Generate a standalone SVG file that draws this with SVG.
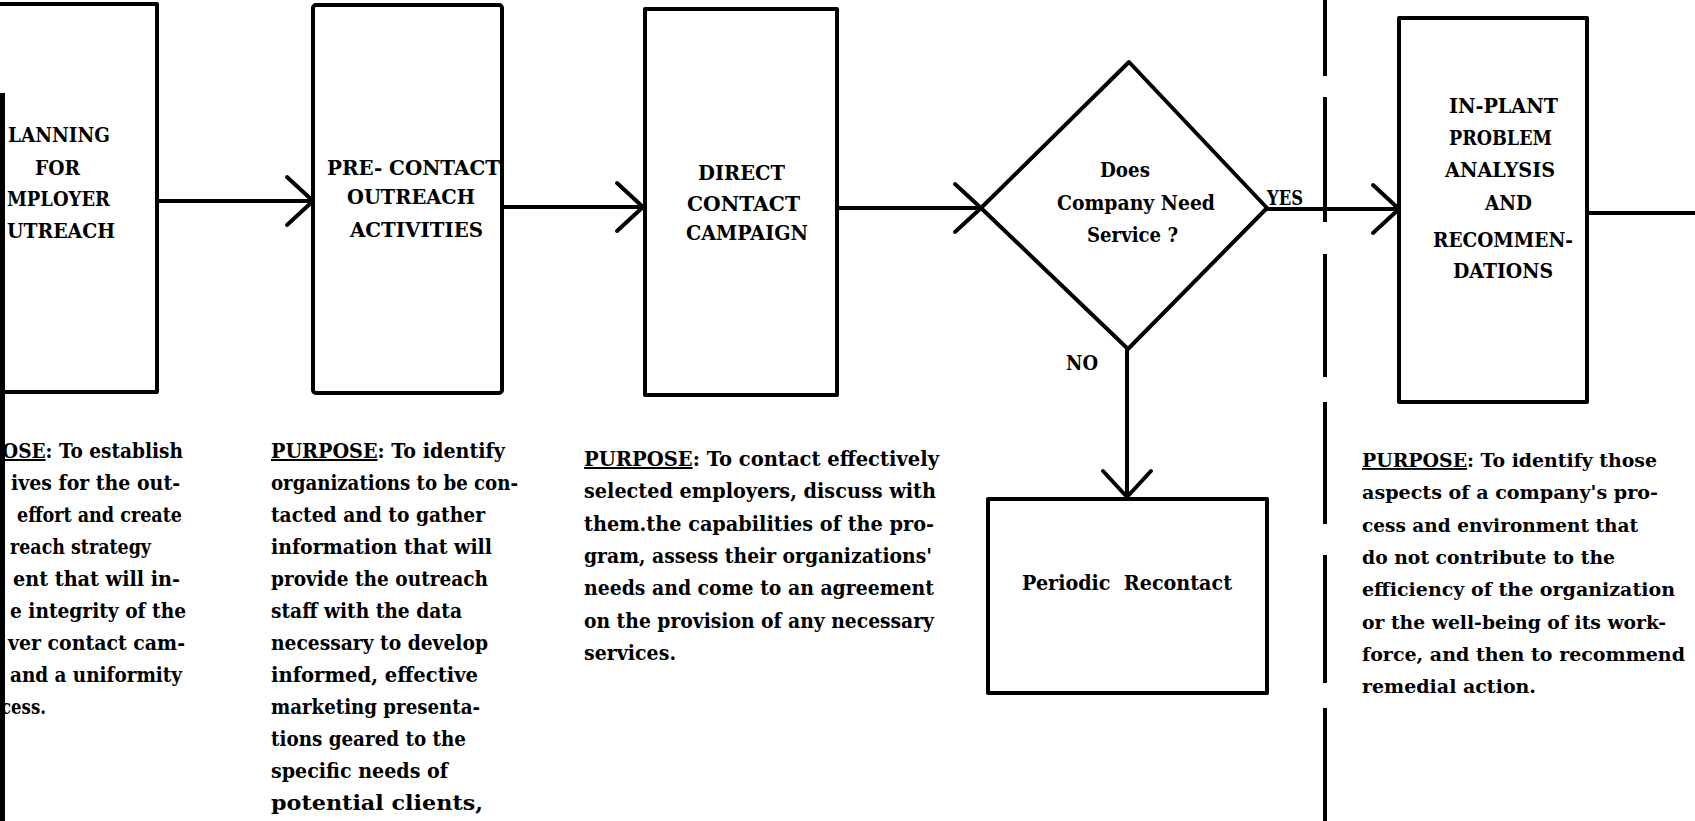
<svg xmlns="http://www.w3.org/2000/svg" width="1695" height="821" viewBox="0 0 1695 821">
  <defs>
    <style>
      .box{fill:none;stroke:#000;stroke-width:4;stroke-linejoin:round}
      .conn{fill:none;stroke:#000;stroke-width:4;stroke-linecap:round}
      .div{stroke:#000;stroke-width:4;stroke-linecap:butt}
      .lbl{font-family:"DejaVu Serif","Liberation Serif",serif;font-weight:bold;font-size:21px;fill:#000}
      .txt{font-family:"DejaVu Serif","Liberation Serif",serif;font-weight:bold;font-size:20px;fill:#000}
      .txt.sm{font-size:18.5px}
      .ul{text-decoration:underline}
    </style>
    <marker id="vee" markerUnits="userSpaceOnUse" markerWidth="40" markerHeight="60" viewBox="-32 -30 40 60" refX="0" refY="0" orient="auto" overflow="visible">
      <path d="M-26,-24 L0,0 L-26,24" fill="none" stroke="#000" stroke-width="4" stroke-linecap="round" stroke-linejoin="round"/>
    </marker>
  </defs>

  <rect x="0" y="0" width="1695" height="821" fill="#fff"/>

  <!-- dark binding edge along the left margin -->
  <rect x="0" y="93" width="5" height="728" fill="#000"/>

  <!-- process boxes -->
  <g id="node-planning">
    <rect class="box" x="-10" y="4" width="167" height="388"/>
    <text class="lbl" x="8" y="142" textLength="102" lengthAdjust="spacingAndGlyphs">LANNING</text>
    <text class="lbl" x="35" y="175" textLength="45" lengthAdjust="spacingAndGlyphs">FOR</text>
    <text class="lbl" x="7" y="206" textLength="103" lengthAdjust="spacingAndGlyphs">MPLOYER</text>
    <text class="lbl" x="7" y="238" textLength="108" lengthAdjust="spacingAndGlyphs">UTREACH</text>
  </g>

  <g id="node-precontact">
    <rect class="box" x="313" y="5" width="189" height="388" rx="3"/>
    <text class="lbl" x="327" y="175" textLength="173" lengthAdjust="spacingAndGlyphs">PRE- CONTACT</text>
    <text class="lbl" x="347" y="204" textLength="128" lengthAdjust="spacingAndGlyphs">OUTREACH</text>
    <text class="lbl" x="350" y="237" textLength="133" lengthAdjust="spacingAndGlyphs">ACTIVITIES</text>
  </g>

  <g id="node-direct">
    <rect class="box" x="645" y="9" width="192" height="386"/>
    <text class="lbl" x="698" y="180" textLength="87" lengthAdjust="spacingAndGlyphs">DIRECT</text>
    <text class="lbl" x="687" y="211" textLength="113" lengthAdjust="spacingAndGlyphs">CONTACT</text>
    <text class="lbl" x="686" y="240" textLength="122" lengthAdjust="spacingAndGlyphs">CAMPAIGN</text>
  </g>

  <g id="node-decision">
    <polygon class="box" points="1129,62 1267,208 1128,349 981,208"/>
    <text class="lbl" x="1100" y="177" textLength="50" lengthAdjust="spacingAndGlyphs">Does</text>
    <text class="lbl" x="1057" y="210" textLength="158" lengthAdjust="spacingAndGlyphs">Company Need</text>
    <text class="lbl" x="1087" y="242" textLength="91" lengthAdjust="spacingAndGlyphs">Service ?</text>
  </g>

  <g id="node-recontact">
    <rect class="box" x="988" y="499" width="279" height="194"/>
    <text class="lbl" x="1022" y="590" textLength="210" lengthAdjust="spacingAndGlyphs" style="white-space:pre">Periodic  Recontact</text>
  </g>

  <g id="node-inplant">
    <rect class="box" x="1399" y="18" width="188" height="384"/>
    <text class="lbl" x="1449" y="113" textLength="109" lengthAdjust="spacingAndGlyphs">IN-PLANT</text>
    <text class="lbl" x="1449" y="145" textLength="103" lengthAdjust="spacingAndGlyphs">PROBLEM</text>
    <text class="lbl" x="1445" y="177" textLength="110" lengthAdjust="spacingAndGlyphs">ANALYSIS</text>
    <text class="lbl" x="1485" y="210" textLength="47" lengthAdjust="spacingAndGlyphs">AND</text>
    <text class="lbl" x="1433" y="247" textLength="140" lengthAdjust="spacingAndGlyphs">RECOMMEN-</text>
    <text class="lbl" x="1453" y="278" textLength="100" lengthAdjust="spacingAndGlyphs">DATIONS</text>
  </g>

  <!-- flow connectors -->
  <g id="connectors">
    <path class="conn" d="M157,201 H313" marker-end="url(#vee)"/>
    <path class="conn" d="M502,207 H643" marker-end="url(#vee)"/>
    <path class="conn" d="M837,208 H981" marker-end="url(#vee)"/>
    <path class="conn" d="M1267,209 H1399" marker-end="url(#vee)"/>
    <path class="conn" d="M1127,349 V497" marker-end="url(#vee)"/>
    <path class="conn" d="M1587,213 H1700"/>
    <text class="lbl" x="1267" y="205" textLength="36" lengthAdjust="spacingAndGlyphs">YES</text>
    <text class="lbl" x="1066" y="370" textLength="32" lengthAdjust="spacingAndGlyphs">NO</text>
  </g>

  <!-- phase divider -->
  <g id="divider">
    <line class="div" x1="1325" y1="0" x2="1325" y2="76"/>
    <line class="div" x1="1325" y1="97" x2="1325" y2="222"/>
    <line class="div" x1="1325" y1="254" x2="1325" y2="377"/>
    <line class="div" x1="1325" y1="402" x2="1325" y2="524"/>
    <line class="div" x1="1325" y1="555" x2="1325" y2="683"/>
    <line class="div" x1="1325" y1="708" x2="1325" y2="821"/>
  </g>

  <!-- purpose statements -->
  <g id="purpose-planning">
    <text class="txt" x="2" y="458" textLength="181" lengthAdjust="spacingAndGlyphs"><tspan class="ul">OSE</tspan>: To establish</text>
    <text class="txt" x="11" y="490" textLength="169" lengthAdjust="spacingAndGlyphs">ives for the out-</text>
    <text class="txt" x="17" y="522" textLength="165" lengthAdjust="spacingAndGlyphs">effort and create</text>
    <text class="txt" x="10" y="554" textLength="141" lengthAdjust="spacingAndGlyphs">reach strategy</text>
    <text class="txt" x="13" y="586" textLength="167" lengthAdjust="spacingAndGlyphs">ent that will in-</text>
    <text class="txt" x="10" y="618" textLength="176" lengthAdjust="spacingAndGlyphs">e integrity of the</text>
    <text class="txt" x="8" y="650" textLength="177" lengthAdjust="spacingAndGlyphs">ver contact cam-</text>
    <text class="txt" x="10" y="682" textLength="172" lengthAdjust="spacingAndGlyphs">and a uniformity</text>
    <text class="txt" x="1" y="714" textLength="45" lengthAdjust="spacingAndGlyphs">cess.</text>
  </g>

  <g id="purpose-precontact">
    <text class="txt" x="271" y="458" textLength="234" lengthAdjust="spacingAndGlyphs"><tspan class="ul">PURPOSE</tspan>: To identify</text>
    <text class="txt" x="271" y="490" textLength="247" lengthAdjust="spacingAndGlyphs">organizations to be con-</text>
    <text class="txt" x="271" y="522" textLength="214" lengthAdjust="spacingAndGlyphs">tacted and to gather</text>
    <text class="txt" x="271" y="554" textLength="221" lengthAdjust="spacingAndGlyphs">information that will</text>
    <text class="txt" x="271" y="586" textLength="217" lengthAdjust="spacingAndGlyphs">provide the outreach</text>
    <text class="txt" x="271" y="618" textLength="191" lengthAdjust="spacingAndGlyphs">staff with the data</text>
    <text class="txt" x="271" y="650" textLength="217" lengthAdjust="spacingAndGlyphs">necessary to develop</text>
    <text class="txt" x="271" y="682" textLength="207" lengthAdjust="spacingAndGlyphs">informed, effective</text>
    <text class="txt" x="271" y="714" textLength="209" lengthAdjust="spacingAndGlyphs">marketing presenta-</text>
    <text class="txt" x="271" y="746" textLength="195" lengthAdjust="spacingAndGlyphs">tions geared to the</text>
    <text class="txt" x="271" y="778" textLength="177" lengthAdjust="spacingAndGlyphs">specific needs of</text>
    <text class="txt" x="271" y="810" textLength="212" lengthAdjust="spacingAndGlyphs">potential clients,</text>
  </g>

  <g id="purpose-direct">
    <text class="txt" x="584" y="466" textLength="355" lengthAdjust="spacingAndGlyphs"><tspan class="ul">PURPOSE</tspan>: To contact effectively</text>
    <text class="txt" x="584" y="498" textLength="352" lengthAdjust="spacingAndGlyphs">selected employers, discuss with</text>
    <text class="txt" x="584" y="531" textLength="350" lengthAdjust="spacingAndGlyphs">them.the capabilities of the pro-</text>
    <text class="txt" x="584" y="563" textLength="348" lengthAdjust="spacingAndGlyphs">gram, assess their organizations'</text>
    <text class="txt" x="584" y="595" textLength="350" lengthAdjust="spacingAndGlyphs">needs and come to an agreement</text>
    <text class="txt" x="584" y="628" textLength="350" lengthAdjust="spacingAndGlyphs">on the provision of any necessary</text>
    <text class="txt" x="584" y="660" textLength="92" lengthAdjust="spacingAndGlyphs">services.</text>
  </g>

  <g id="purpose-inplant">
    <text class="txt sm" x="1362" y="467" textLength="295" lengthAdjust="spacingAndGlyphs"><tspan class="ul">PURPOSE</tspan>: To identify those</text>
    <text class="txt sm" x="1362" y="499" textLength="296" lengthAdjust="spacingAndGlyphs">aspects of a company's pro-</text>
    <text class="txt sm" x="1362" y="532" textLength="276" lengthAdjust="spacingAndGlyphs">cess and environment that</text>
    <text class="txt sm" x="1362" y="564" textLength="253" lengthAdjust="spacingAndGlyphs">do not contribute to the</text>
    <text class="txt sm" x="1362" y="596" textLength="313" lengthAdjust="spacingAndGlyphs">efficiency of the organization</text>
    <text class="txt sm" x="1362" y="629" textLength="304" lengthAdjust="spacingAndGlyphs">or the well-being of its work-</text>
    <text class="txt sm" x="1362" y="661" textLength="323" lengthAdjust="spacingAndGlyphs">force, and then to recommend</text>
    <text class="txt sm" x="1362" y="693" textLength="174" lengthAdjust="spacingAndGlyphs">remedial action.</text>
  </g>
</svg>
